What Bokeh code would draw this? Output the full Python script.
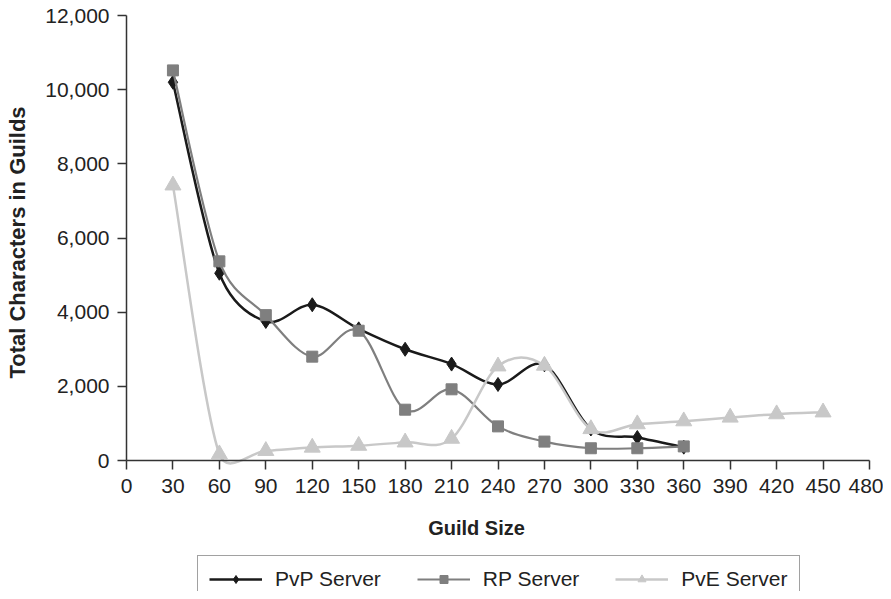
import math
from bokeh.plotting import figure
from bokeh.models import (ColumnDataSource, Legend, LegendItem, FixedTicker, NumeralTickFormatter,
                          Range1d, Label)
from bokeh.embed import file_html
from bokeh.resources import INLINE

# ---- data ----
guild_size_pvp = [30, 60, 90, 120, 150, 180, 210, 240, 270, 300, 330, 360]
pvp_chars = [10200, 5050, 3750, 4200, 3550, 3000, 2600, 2050, 2580, 850, 620, 360]

guild_size_rp = [30, 60, 90, 120, 150, 180, 210, 240, 270, 300, 330, 360]
rp_chars = [10520, 5370, 3920, 2800, 3500, 1370, 1920, 920, 510, 330, 330, 380]

guild_size_pve = [30, 60, 90, 120, 150, 180, 210, 240, 270, 300, 330, 360, 390, 420, 450]
pve_chars = [7420, 170, 260, 350, 400, 490, 590, 2540, 2560, 850, 980, 1060, 1160, 1250, 1300]

x_ticks = list(range(0, 481, 30))
y_ticks = list(range(0, 12001, 2000))

X_TITLE = "Guild Size"
Y_TITLE = "Total Characters in Guilds"

FONT = "Liberation Sans"
X_MAX, Y_MAX = 480, 12000

# ---- layout (pixels on the canvas) ----
CANVAS_W, CANVAS_H = 883, 591
AX_LEFT, AX_RIGHT = 126, 869      # where x = 0 and x = 480 sit
AX_TOP, AX_BOTTOM = 15, 460       # where y = 12000 and y = 0 sit
PX_X = (AX_RIGHT - AX_LEFT) / X_MAX
PX_Y = (AX_BOTTOM - AX_TOP) / Y_MAX


def dx(px):
    return (px - AX_LEFT) / PX_X


def dy(py):
    return (AX_BOTTOM - py) / PX_Y


def bezier_source(xs, ys, f=1.0 / 6.0):
    """Smoothed-line segments (Excel-like) built from the data points."""
    n = len(xs)

    def tangent(i):
        im = max(i - 1, 0)
        ip = min(i + 1, n - 1)
        return (xs[ip] - xs[im]) * f, (ys[ip] - ys[im]) * f

    def capped(i, j):
        tx, ty = tangent(i)
        L = math.hypot(tx * PX_X, ty * PX_Y)
        seg = math.hypot((xs[j] - xs[i]) * PX_X, (ys[j] - ys[i]) * PX_Y)
        if L > 0.5 * seg and L > 0:
            k = 0.5 * seg / L
            tx, ty = tx * k, ty * k
        return tx, ty

    d = dict(x0=[], y0=[], x1=[], y1=[], cx0=[], cy0=[], cx1=[], cy1=[])
    for i in range(n - 1):
        t0x, t0y = capped(i, i + 1)
        t1x, t1y = capped(i + 1, i)
        d["x0"].append(xs[i]); d["y0"].append(ys[i])
        d["x1"].append(xs[i + 1]); d["y1"].append(ys[i + 1])
        d["cx0"].append(xs[i] + t0x); d["cy0"].append(ys[i] + t0y)
        d["cx1"].append(xs[i + 1] - t1x); d["cy1"].append(ys[i + 1] - t1y)
    return ColumnDataSource(d)


p = figure(frame_width=CANVAS_W, frame_height=CANVAS_H, output_backend="svg", toolbar_location=None,
           x_range=Range1d(dx(0), dx(CANVAS_W)), y_range=Range1d(dy(CANVAS_H), dy(0)),
           min_border_left=0, min_border_right=0, min_border_top=0, min_border_bottom=0)
p.outline_line_color = None
p.xgrid.visible = False
p.ygrid.visible = False
p.background_fill_color = "white"
p.border_fill_color = "white"

for ax in (p.xaxis[0], p.yaxis[0]):
    ax.axis_line_color = "#333333"
    ax.axis_line_width = 1.5
    ax.major_tick_line_color = "#333333"
    ax.major_tick_line_width = 1.5
    ax.major_tick_in = 0
    ax.major_tick_out = 9
    ax.minor_tick_line_color = None
    ax.major_label_text_font = FONT
    ax.major_label_text_font_size = "21px"
    ax.major_label_text_color = "#222222"

p.xaxis.ticker = FixedTicker(ticks=x_ticks)
p.yaxis.ticker = FixedTicker(ticks=y_ticks)
p.xaxis.bounds = (0, X_MAX)
p.yaxis.bounds = (0, Y_MAX)
p.xaxis.fixed_location = 0
p.yaxis.fixed_location = 0
p.yaxis.formatter = NumeralTickFormatter(format="0,0")
p.xaxis.major_label_standoff = 9
p.yaxis.major_label_standoff = 8

p.add_layout(Label(x=dx(476), y=dy(527), text=X_TITLE, text_font=FONT, text_font_size="20px",
                   text_font_style="bold", text_color="#222222",
                   text_align="center", text_baseline="alphabetic"))
p.add_layout(Label(x=dx(17), y=dy(242), text=Y_TITLE, text_font=FONT, text_font_size="22px",
                   text_font_style="bold", text_color="#222222", angle=math.pi / 2,
                   text_align="center", text_baseline="middle"))

series = [
    ("PvP Server", guild_size_pvp, pvp_chars, "#1a1a1a", 2.5, "diamond", 14),
    ("RP Server", guild_size_rp, rp_chars, "#7f7f7f", 2.2, "square", 11),
    ("PvE Server", guild_size_pve, pve_chars, "#c8c8c8", 2.5, "triangle", 16),
]

items = []
for name, xs, ys, color, lw, marker, size in series:
    src = bezier_source(xs, ys)
    ln = p.bezier(x0="x0", y0="y0", x1="x1", y1="y1", cx0="cx0", cy0="cy0", cx1="cx1", cy1="cy1",
                  source=src, line_color=color, line_width=lw)
    pts = p.scatter(xs, ys, marker=marker, size=size,
                    fill_color=color, line_color=color, line_width=1)
    items.append(LegendItem(label=name, renderers=[ln, pts]))

legend = Legend(items=items, orientation="horizontal", location=(197, -12),
                glyph_width=53, glyph_height=20, label_height=20,
                label_standoff=13, spacing=36, padding=11, margin=0,
                label_text_font=FONT, label_text_font_size="21px", label_text_color="#222222",
                border_line_color="#444444", border_line_width=1.5,
                background_fill_color="white", background_fill_alpha=1.0)
p.add_layout(legend, "center")

open("out.html", "w").write(file_html(p, INLINE))
